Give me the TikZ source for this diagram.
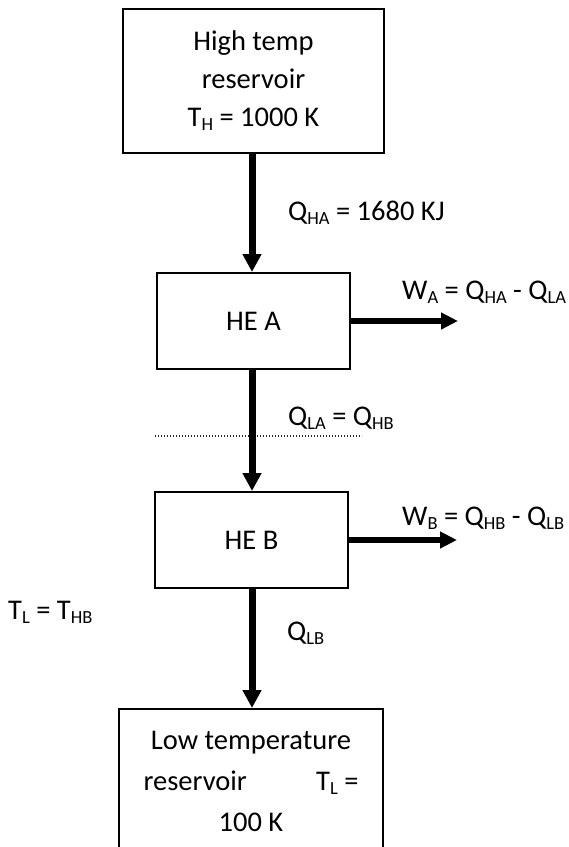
\documentclass[tikz,border=0pt]{standalone}
\usepackage{fontspec}
\setmainfont{Carlito}
\usetikzlibrary{arrows.meta}
\newcommand\lowsub[1]{\raisebox{-4pt}{\fontsize{18.5}{18.5}\selectfont #1}}
\begin{document}
\begin{tikzpicture}[x=1pt,y=-1pt,
  font=\fontsize{28.5}{38}\selectfont,
  box/.style={draw, line width=2pt, inner sep=0pt},
  heat/.style={line width=7pt, -{Triangle[width=18pt,length=18pt]}},
  work/.style={line width=5.5pt, -{Triangle[width=16pt,length=17pt]}},
  lbl/.style={anchor=west, inner sep=0pt}]
\clip (0,0) rectangle (569,847);
% boxes
\node[box, minimum width=261pt, minimum height=144pt, align=center] (hot) at (253.5,81)
  {High temp\\reservoir\\T\lowsub{H} = 1000 K};
\node[box, minimum width=193pt, minimum height=96pt] (heA) at (253.5,321) {HE A};
\node[box, minimum width=193pt, minimum height=96pt] (heB) at (251.5,540) {HE B};
\node[box, minimum width=264pt, minimum height=191pt] (cold) at (251,804.5) {};
\node[inner sep=0pt, align=center, font=\fontsize{28.5}{41}\selectfont] (coldtext) at (251,781)
  {Low temperature\\\hbox to 215pt{reservoir\hfill T\lowsub{L} =}\\100 K};
% dotted line
\coordinate (d1) at (155,436);
\coordinate (d2) at (362,436);
\draw[line width=1.2pt, black!85, dash pattern=on 1.2pt off 1.8pt] (d1) -- (d2);
% arrows
\coordinate (ax) at (252,0);
\draw[heat] (hot.south -| ax) -- (heA.north -| ax);
\draw[heat] (heA.south -| ax) -- (heB.north -| ax);
\draw[heat] (heB.south -| ax) -- (cold.north -| ax);
\coordinate (wa) at (458,321);
\coordinate (wb) at (457,540);
\draw[work] (heA.east) -- (wa);
\draw[work] (heB.east) -- (wb);
% labels
\node[lbl] (qha) at (288,213) {Q\lowsub{HA} = 1680 KJ};
\node[lbl] (wA) at (402,292) {W\lowsub{A} = Q\lowsub{HA} - Q\lowsub{LA}};
\node[lbl] (qla) at (288,418) {Q\lowsub{LA} = Q\lowsub{HB}};
\node[lbl] (wB) at (402,518) {W\lowsub{B} = Q\lowsub{HB} - Q\lowsub{LB}};
\node[lbl] (qlb) at (287,633) {Q\lowsub{LB}};
\node[lbl] (tl) at (8,612) {T\lowsub{L} = T\lowsub{HB}};
\end{tikzpicture}
\end{document}
